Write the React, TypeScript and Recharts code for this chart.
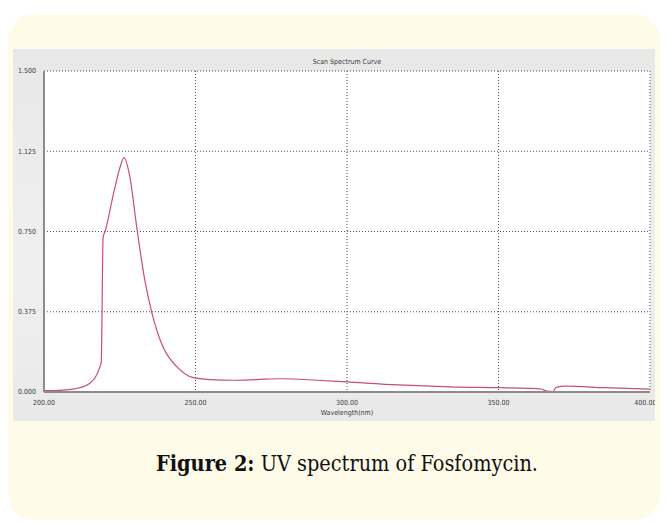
import React from 'react';
import { LineChart, Line, XAxis, YAxis, CartesianGrid } from 'recharts';

const wavelengths = [
  200, 205, 210, 213, 215, 217, 218.5, 218.9, 219.5, 220.3, 223, 225.1, 226.4, 228.4, 230.7,
  233.3, 235.6, 239.3, 243.9, 249, 255, 262, 270, 278, 290, 300, 317, 334, 350, 360, 364,
  366, 368, 369, 372, 385, 400,
];
const absorbance = [
  0.006, 0.008, 0.015, 0.025, 0.04, 0.07, 0.12, 0.14, 0.72, 0.757, 0.93, 1.05, 1.095, 1.0, 0.76,
  0.52, 0.37, 0.21, 0.117, 0.068, 0.058, 0.055, 0.058, 0.062, 0.055, 0.047, 0.033, 0.024, 0.02,
  0.017, 0.014, 0.004, 0.002, 0.022, 0.027, 0.02, 0.013,
];
const xTicks = [200, 250, 300, 350, 400];
const yTicks = [0, 0.375, 0.75, 1.125, 1.5];

const data = wavelengths.map((nm, i) => ({ nm, abs: absorbance[i] }));

const tickFont = { fill: '#3a3a3a', fontSize: 7, fontFamily: '"Liberation Sans Narrow", "DejaVu Sans Condensed", sans-serif' };
const frame = '#8c8c8c';

const App: React.FC = () => {
  return (
    <div style={{ position: 'absolute', left: 0, top: 0, width: 667, height: 524, background: '#fff' }}>
      <div style={{ position: 'absolute', left: 8, top: 14, width: 652, height: 506, borderRadius: 26, background: '#fefbe8' }} />
      <div style={{ position: 'absolute', left: 13, top: 49, width: 642, height: 372, background: 'linear-gradient(#e8e8e8, #f0f0f0 60%, #e9e9e9)' }}>
        <div style={{ position: 'absolute', left: 0, top: 9, width: 668, textAlign: 'center', fontSize: 7, color: '#3a3a3a', fontFamily: tickFont.fontFamily }}>
          Scan Spectrum Curve
        </div>
        <LineChart width={642} height={372} data={data} margin={{ top: 22, right: 5, left: 0, bottom: 0 }}>
          <CartesianGrid fill="#ffffff" stroke="#505050" strokeDasharray="1 2" />
          <XAxis
            dataKey="nm"
            type="number"
            domain={[200, 400]}
            ticks={xTicks}
            tickFormatter={(v: number) => v.toFixed(2)}
            tick={tickFont}
            stroke="#3a3a3a"
            tickLine={false}
            axisLine={{ stroke: frame, strokeWidth: 2 }}
            height={29}
            tickMargin={2}
            label={{ value: 'Wavelength(nm)', position: 'insideBottom', offset: 6, style: tickFont }}
          />
          <XAxis xAxisId="top" orientation="top" dataKey="nm" type="number" domain={[200, 400]} tick={false} tickLine={false} height={0} axisLine={{ stroke: frame, strokeWidth: 1.5 }} />
          <YAxis
            type="number"
            domain={[0, 1.5]}
            ticks={yTicks}
            tickFormatter={(v: number) => v.toFixed(3)}
            tick={tickFont}
            stroke="#3a3a3a"
            tickLine={false}
            axisLine={{ stroke: frame, strokeWidth: 2 }}
            width={31}
            tickMargin={2}
          />
          <YAxis yAxisId="right" orientation="right" domain={[0, 1.5]} tick={false} tickLine={false} width={0} axisLine={{ stroke: frame, strokeWidth: 1.5 }} />
          <Line type="monotone" dataKey="abs" stroke="#c94f6b" strokeWidth={1.2} dot={false} isAnimationActive={false} />
        </LineChart>
      </div>
      <div style={{ position: 'absolute', left: 0, top: 451, width: 694, textAlign: 'center', fontFamily: '"DejaVu Serif Condensed", "DejaVu Serif", serif', fontSize: 21.5, color: '#111' }}>
        <b>Figure 2:</b> UV spectrum of Fosfomycin.
      </div>
    </div>
  );
};

export default App;
